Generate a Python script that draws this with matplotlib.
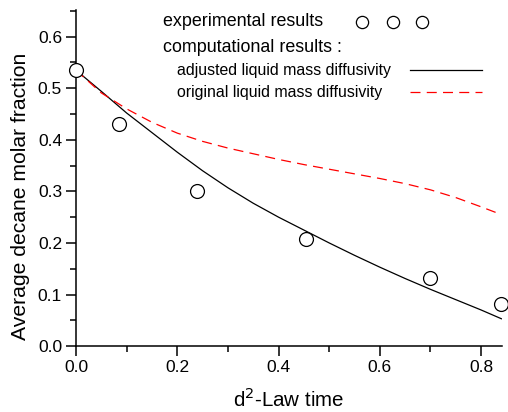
import numpy as np
import matplotlib.pyplot as plt
from matplotlib.lines import Line2D
from matplotlib.ticker import MultipleLocator

plt.rcParams["font.family"] = ["Liberation Sans", "DejaVu Sans"]

# experimental points
exp_time = [0.0, 0.084, 0.239, 0.454, 0.700, 0.840]
exp_frac = [0.535, 0.431, 0.300, 0.207, 0.132, 0.081]

# computed curves
calc_time = [0.0, 0.05, 0.1, 0.15, 0.2, 0.25, 0.3, 0.35, 0.4, 0.45,
             0.5, 0.55, 0.6, 0.65, 0.7, 0.75, 0.8, 0.84]
adjusted = [0.535, 0.494, 0.452, 0.414, 0.376, 0.340, 0.307, 0.277, 0.250, 0.225,
            0.200, 0.176, 0.153, 0.131, 0.110, 0.090, 0.070, 0.053]
original = [0.535, 0.491, 0.460, 0.434, 0.413, 0.397, 0.384, 0.373, 0.362, 0.352,
            0.343, 0.334, 0.325, 0.315, 0.303, 0.288, 0.270, 0.255]

W, H = 508, 412
fig = plt.figure(figsize=(W / 100, H / 100), dpi=100)
ax = fig.add_axes([0.1496, 0.160, 0.8384, 0.816])

ax.plot(calc_time, adjusted, color="black", lw=0.9)
ax.plot(calc_time, original, color="red", lw=0.9, dashes=(8, 5))
ax.plot(exp_time, exp_frac, "o", ms=10, mfc="white", mec="black", mew=0.9,
        clip_on=False, zorder=5)

ax.set_xlim(0, 0.841)
ax.set_ylim(0, 0.652)
ax.xaxis.set_major_locator(MultipleLocator(0.2))
ax.xaxis.set_minor_locator(MultipleLocator(0.1))
ax.yaxis.set_major_locator(MultipleLocator(0.1))
ax.yaxis.set_minor_locator(MultipleLocator(0.05))
ax.xaxis.set_major_formatter(lambda v, p: f"{v:.1f}")
ax.yaxis.set_major_formatter(lambda v, p: f"{v:.1f}")

for s in ["top", "right"]:
    ax.spines[s].set_visible(False)
for s in ["left", "bottom"]:
    ax.spines[s].set_linewidth(1.1)
ax.tick_params(which="major", direction="out", length=7, width=1.1,
               labelsize=12.5, pad=3)
ax.tick_params(which="minor", direction="out", length=4, width=1.1)

ax.set_xlabel("d$^2$-Law time", fontsize=14.8, labelpad=9)
ax.set_ylabel("Average decane molar fraction", fontsize=15.2)
ax.yaxis.set_label_coords(-0.107, 0.445)


# legend drawn by hand, like the Origin original (positions in pixels)
def fx(px):
    return px / W


def fy(py):
    return 1 - py / H


fig.text(fx(163), fy(22), "experimental results", fontsize=12.9, va="center")
fig.text(fx(163), fy(47), "computational results :", fontsize=12.9, va="center")
fig.text(fx(177), fy(70), "adjusted liquid mass diffusivity", fontsize=11.4,
         va="center")
fig.text(fx(177), fy(92), "original liquid mass diffusivity", fontsize=11.4,
         va="center")
fig.add_artist(Line2D([fx(362), fx(392.5), fx(422)], [fy(22)] * 3, ls="none",
                      marker="o", ms=8.8, mfc="white", mec="black", mew=0.9))
fig.add_artist(Line2D([fx(410), fx(482)], [fy(70)] * 2, color="black", lw=0.9))
fig.add_artist(Line2D([fx(410), fx(482)], [fy(92)] * 2, color="red", lw=0.9,
                      dashes=(8, 5)))

fig.savefig("out.png", dpi=100)
